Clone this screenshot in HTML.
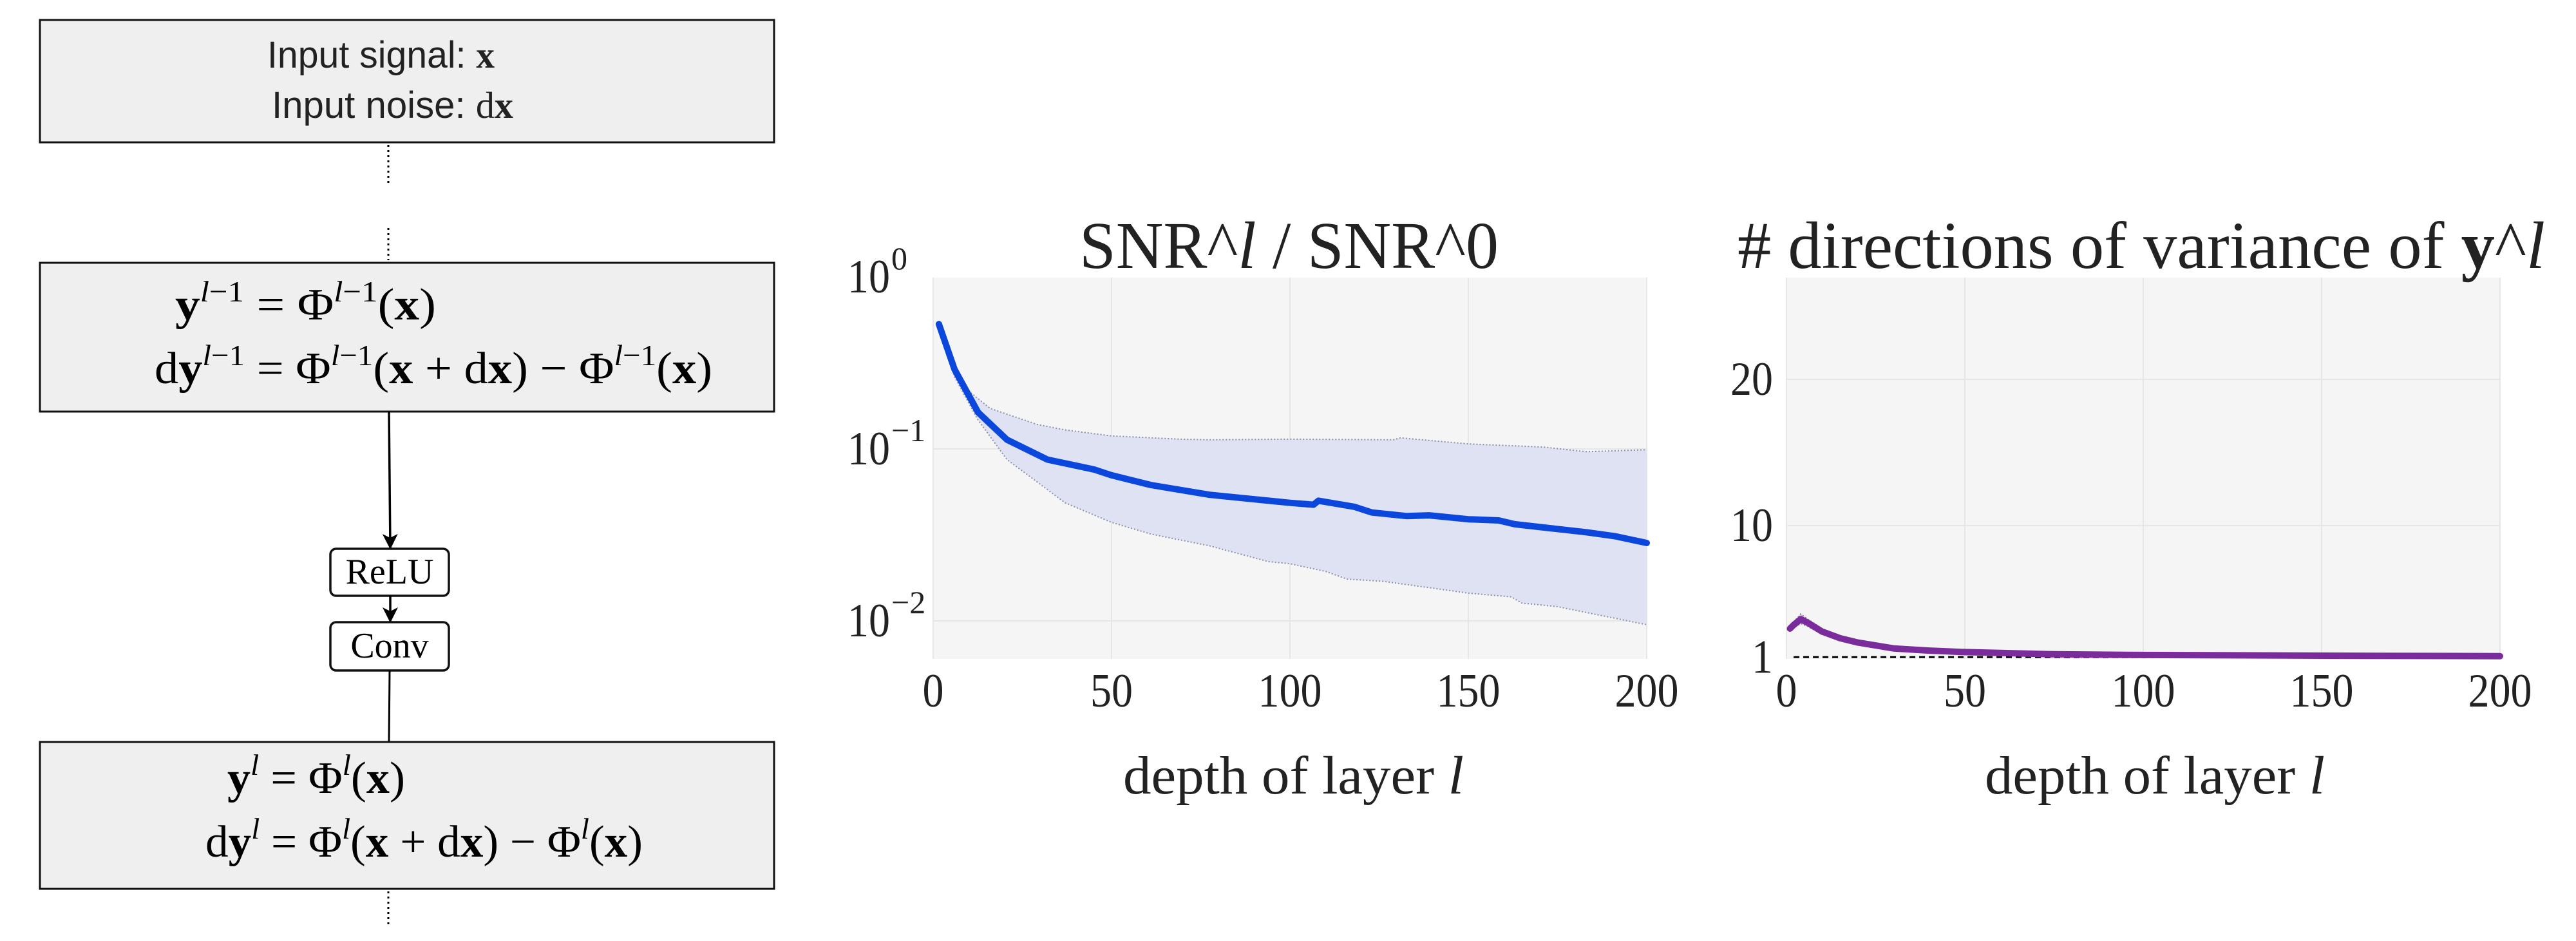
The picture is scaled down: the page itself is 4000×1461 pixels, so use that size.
<!DOCTYPE html>
<html><head><meta charset="utf-8"><style>
html,body{margin:0;padding:0;background:#fff;}
svg{display:block;}
.sans{font-family:"Liberation Sans",sans-serif;}
.serif{font-family:"Liberation Serif",serif;}
</style></head><body>
<svg id="root" width="4000" height="1461" viewBox="0 0 4000 1461" xmlns="http://www.w3.org/2000/svg">
<defs><marker id="ah" markerWidth="24" markerHeight="24" refX="22" refY="12" orient="auto" markerUnits="userSpaceOnUse"><path d="M0,0 L24,12 L0,24 L6,12 z" fill="#000"/></marker></defs>
<g>
<rect x="62" y="31" width="1140" height="190" fill="#efefef" stroke="#111" stroke-width="3"/>
<text class="sans" x="415" y="105" font-size="58" fill="#222" textLength="353" lengthAdjust="spacingAndGlyphs">Input signal: <tspan class="serif" font-weight="bold">x</tspan></text>
<text class="sans" x="422" y="183" font-size="58" fill="#222" textLength="375" lengthAdjust="spacingAndGlyphs">Input noise: <tspan class="serif">d</tspan><tspan class="serif" font-weight="bold">x</tspan></text>
<line x1="603" y1="225" x2="603" y2="286" stroke="#000" stroke-width="3" stroke-dasharray="3,5"/>
<line x1="603" y1="354" x2="603" y2="404" stroke="#000" stroke-width="3" stroke-dasharray="3,5"/>
<rect x="62" y="408" width="1140" height="231" fill="#efefef" stroke="#111" stroke-width="3"/>
<text class="serif" x="272" y="496" font-size="70" textLength="405" lengthAdjust="spacingAndGlyphs"><tspan font-weight="bold">y</tspan><tspan font-size="46" dy="-28" font-style="italic">l</tspan><tspan font-size="46">−1</tspan><tspan dy="28"> = Φ</tspan><tspan font-size="46" dy="-28" font-style="italic">l</tspan><tspan font-size="46">−1</tspan><tspan dy="28">(</tspan><tspan font-weight="bold">x</tspan>)</text>
<text class="serif" x="240" y="595" font-size="70" textLength="866" lengthAdjust="spacingAndGlyphs">d<tspan font-weight="bold">y</tspan><tspan font-size="46" dy="-28" font-style="italic">l</tspan><tspan font-size="46">−1</tspan><tspan dy="28"> = Φ</tspan><tspan font-size="46" dy="-28" font-style="italic">l</tspan><tspan font-size="46">−1</tspan><tspan dy="28">(</tspan><tspan font-weight="bold">x</tspan> + d<tspan font-weight="bold">x</tspan>) − Φ<tspan font-size="46" dy="-28" font-style="italic">l</tspan><tspan font-size="46">−1</tspan><tspan dy="28">(</tspan><tspan font-weight="bold">x</tspan>)</text>
<line x1="604" y1="639" x2="606" y2="851" stroke="#000" stroke-width="3.5" marker-end="url(#ah)"/>
<rect x="513" y="852" width="184" height="73" rx="9" fill="#fff" stroke="#111" stroke-width="3.5"/>
<text class="serif" x="605" y="906" font-size="56" text-anchor="middle">ReLU</text>
<line x1="606" y1="925" x2="606" y2="965" stroke="#000" stroke-width="3.5" marker-end="url(#ah)"/>
<rect x="513" y="966" width="184" height="75" rx="9" fill="#fff" stroke="#111" stroke-width="3.5"/>
<text class="serif" x="605" y="1021" font-size="56" text-anchor="middle">Conv</text>
<line x1="605" y1="1041" x2="604" y2="1152" stroke="#000" stroke-width="3"/>
<rect x="62" y="1152" width="1140" height="228" fill="#efefef" stroke="#111" stroke-width="3"/>
<text class="serif" x="353" y="1231" font-size="70" textLength="276" lengthAdjust="spacingAndGlyphs"><tspan font-weight="bold">y</tspan><tspan font-size="46" dy="-28" font-style="italic">l</tspan><tspan dy="28"> = Φ</tspan><tspan font-size="46" dy="-28" font-style="italic">l</tspan><tspan dy="28">(</tspan><tspan font-weight="bold">x</tspan>)</text>
<text class="serif" x="319" y="1330" font-size="70" textLength="679" lengthAdjust="spacingAndGlyphs">d<tspan font-weight="bold">y</tspan><tspan font-size="46" dy="-28" font-style="italic">l</tspan><tspan dy="28"> = Φ</tspan><tspan font-size="46" dy="-28" font-style="italic">l</tspan><tspan dy="28">(</tspan><tspan font-weight="bold">x</tspan> + d<tspan font-weight="bold">x</tspan>) − Φ<tspan font-size="46" dy="-28" font-style="italic">l</tspan><tspan dy="28">(</tspan><tspan font-weight="bold">x</tspan>)</text>
<line x1="603" y1="1384" x2="603" y2="1437" stroke="#000" stroke-width="3" stroke-dasharray="3,5"/>
</g>
<g id="c1"></g>
<g id="c2"></g>
</svg>
<script>
// SNR chart data
const snrMeanX = [1.6,6,12.6,20.7,32,45,50,61,77.5,94,100,106.6,108,118,123,132.6,139,150,158.5,163,173,183,191,200];
const snrMean = [0.532,0.290,0.163,0.113,0.0867,0.076,0.0703,0.0617,0.0541,0.050,0.0486,0.0474,0.050,0.0461,0.0427,0.0407,0.0411,0.039,0.0384,0.0365,0.0346,0.0328,0.0311,0.0284];
const snrUpperX = [1.6,7.8,16,29,37,50,69,77.5,100,129,131,150,171,183,200];
const snrUpper = [0.532,0.236,0.172,0.139,0.129,0.119,0.114,0.113,0.114,0.113,0.116,0.107,0.1025,0.0964,0.0989];
const snrLowerX = [1.6,6,12.6,20.7,37,50,61,77.5,94,100,110,116,126,142,150,162,165,175,183,200];
const snrLower = [0.532,0.262,0.147,0.0867,0.0486,0.0374,0.032,0.0273,0.0221,0.0215,0.0194,0.0175,0.017,0.0153,0.0145,0.0138,0.0127,0.0121,0.0112,0.0095];
const xTicks = [0,50,100,150,200];
const snrYTickExp = [0,-1,-2];
// directions chart data
const dirX = [1,2,4,6,10,15,20,30,40,50,75,100,150,200];
const dirMean = [2.95,3.2,3.6,3.35,2.75,2.3,2.0,1.6,1.45,1.35,1.2,1.15,1.1,1.07];
const dirUpper = [3.05,3.4,3.95,3.6,2.95,2.45,2.1,1.68,1.5,1.4,1.24,1.18,1.12,1.09];
const dirLower = [2.85,3.0,3.3,3.1,2.55,2.15,1.9,1.52,1.4,1.3,1.16,1.12,1.08,1.05];
const dirYTicks = [1,10,20];

const NS='http://www.w3.org/2000/svg';
function mk(parent,tag,attrs,text){const e=document.createElementNS(NS,tag);for(const k in attrs)e.setAttribute(k,attrs[k]);if(text!==undefined)e.textContent=text;parent.appendChild(e);return e;}
function path(xs,ys,sx,sy){return xs.map((x,i)=>(i?'L':'M')+sx(x).toFixed(1)+','+sy(ys[i]).toFixed(1)).join(' ');}
function tick(g,x,y,anchor,str,w){
 const t=mk(g,'text',{x:x,y:y,'font-size':74,'text-anchor':anchor,class:'serif',fill:'#222',textLength:w,lengthAdjust:'spacingAndGlyphs'},str);
 return t;
}

// ---- chart 1
(function(){
const g=document.getElementById('c1');
const L=1449,R=2557,T=431,B=1023;
const sx=x=>L+(x/200)*(R-L);
const sy=v=>697-(Math.log10(v)+1)*267;
const bg=mk(g,'rect',{x:L,y:T,width:R-L,height:B-T,fill:'#f5f5f5'});


xTicks.forEach(t=>{
 const gl=mk(g,'line',{x1:sx(t),x2:sx(t),y1:T,y2:B,stroke:'#e6e6e6','stroke-width':2});
 
 
 const tl=tick(g,sx(t),1097,'middle',String(t),String(t).length*33);
 
 
});
snrYTickExp.forEach(e=>{
 const y=sy(Math.pow(10,e));
 if(e<0){const gl=mk(g,'line',{x1:L,x2:R,y1:y,y2:y,stroke:'#e6e6e6','stroke-width':2});
 
 }
 const tl=tick(g,1382,y+24,'end','10',66);
 
 
 const sp=mk(g,'text',{x:1384,y:y-12,'font-size':50,'text-anchor':'start',class:'serif',fill:'#222'},e===0?'0':'−'+(-e));
 
 
});
const bandD=path(snrUpperX,snrUpper,sx,sy)+' '+snrLowerX.slice().reverse().map((x,i)=>'L'+sx(x).toFixed(1)+','+sy(snrLower[snrLower.length-1-i]).toFixed(1)).join(' ')+' Z';
const band=mk(g,'path',{d:bandD,fill:'#dfe2f2',stroke:'none'});


const ub=mk(g,'path',{d:path(snrUpperX,snrUpper,sx,sy),fill:'none',stroke:'#8a8fa8','stroke-width':2,'stroke-dasharray':'2,3'});


const lb=mk(g,'path',{d:path(snrLowerX,snrLower,sx,sy),fill:'none',stroke:'#8a8fa8','stroke-width':2,'stroke-dasharray':'2,3'});


const ml=mk(g,'path',{d:path(snrMeanX,snrMean,sx,sy),fill:'none',stroke:'#0b47dc','stroke-width':10,'stroke-linejoin':'round','stroke-linecap':'round'});


const ti=mk(g,'text',{x:1676,y:416,'font-size':104,class:'serif',fill:'#222',textLength:651,lengthAdjust:'spacingAndGlyphs'},'');
ti.innerHTML='SNR^<tspan font-style="italic">l</tspan> / SNR^0';


const xl=mk(g,'text',{x:1744,y:1232,'font-size':84,class:'serif',fill:'#222',textLength:529,lengthAdjust:'spacingAndGlyphs'},'');
xl.innerHTML='depth of layer <tspan font-style="italic">l</tspan>';


})();

// ---- chart 2
(function(){
const g=document.getElementById('c2');
const L=2774,R=3882,T=431,B=1023;
const sx=x=>L+(x/200)*(R-L);
const sy=v=>1043-v*22.7;
const bg=mk(g,'rect',{x:L,y:T,width:R-L,height:B-T,fill:'#f5f5f5'});


xTicks.forEach(t=>{
 const gl=mk(g,'line',{x1:sx(t),x2:sx(t),y1:T,y2:B,stroke:'#e6e6e6','stroke-width':2});
 
 
 const tl=tick(g,sx(t),1097,'middle',String(t),String(t).length*33);
 
 
});
dirYTicks.forEach(v=>{
 const y=sy(v);
 if(v>1){const gl=mk(g,'line',{x1:L,x2:R,y1:y,y2:y,stroke:'#e6e6e6','stroke-width':2});
 
 }
 const tl=tick(g,2753,y+24,'end',String(v),String(v).length*33);
 
 
});
const bandD=path(dirX,dirUpper,sx,sy)+' '+dirX.slice().reverse().map((x,i)=>'L'+sx(x).toFixed(1)+','+sy(dirLower[dirLower.length-1-i]).toFixed(1)).join(' ')+' Z';
const band=mk(g,'path',{d:bandD,fill:'#d8c8e2',stroke:'#8a7f95','stroke-width':2,'stroke-dasharray':'2,3'});


const ref=mk(g,'line',{x1:sx(2),x2:R,y1:sy(1),y2:sy(1),stroke:'#000','stroke-width':3,'stroke-dasharray':'9,6'});


const ml=mk(g,'path',{d:path(dirX,dirMean,sx,sy),fill:'none',stroke:'#7a2b9c','stroke-width':10,'stroke-linejoin':'round','stroke-linecap':'round'});


const ti=mk(g,'text',{x:2698,y:416,'font-size':104,class:'serif',fill:'#222',textLength:1254,lengthAdjust:'spacingAndGlyphs'},'');
ti.innerHTML='# directions of variance of <tspan font-weight="bold">y</tspan>^<tspan font-style="italic">l</tspan>';


const xl=mk(g,'text',{x:3082,y:1232,'font-size':84,class:'serif',fill:'#222',textLength:528,lengthAdjust:'spacingAndGlyphs'},'');
xl.innerHTML='depth of layer <tspan font-style="italic">l</tspan>';


})();
</script>
</body></html>
